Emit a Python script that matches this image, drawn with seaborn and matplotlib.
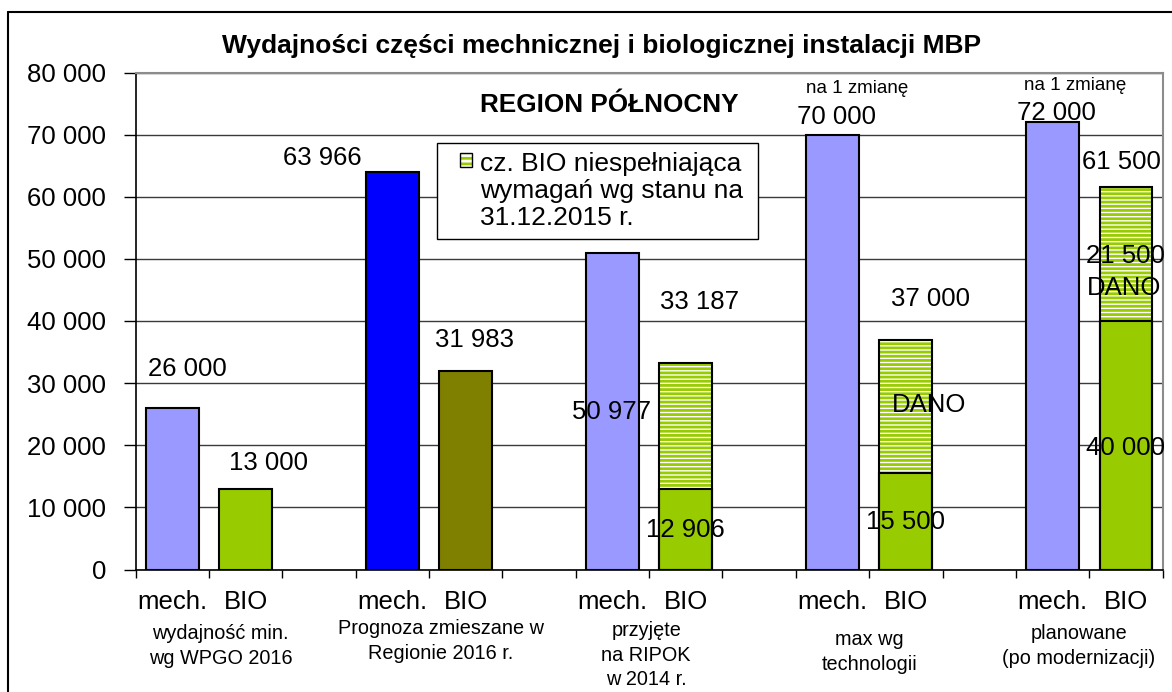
import numpy as np
import pandas as pd
import matplotlib
matplotlib.use("Agg")
import matplotlib.pyplot as plt
import matplotlib.transforms as mtransforms
from matplotlib.patches import Rectangle
import seaborn as sns

# ---- data -------------------------------------------------------------
groups = ["wydajność min.\nwg WPGO 2016",
          "Prognoza zmieszane w\nRegionie 2016 r.",
          "przyjęte\nna RIPOK\nw 2014 r.",
          "max wg\ntechnologii",
          "planowane\n(po modernizacji)"]
mech_values = [26000, 63966, 50977, 70000, 72000]
bio_total = [13000, 31983, 33187, 37000, 61500]
bio_compliant = [13000, 31983, 12906, 15500, 40000]
bio_hatched = [False, False, True, True, True]
mech_colors = ["#9999FF", "#0000FF", "#9999FF", "#9999FF", "#9999FF"]
bio_colors = ["#99CC00", "#808000", "#99CC00", "#99CC00", "#99CC00"]
legend_label = "cz. BIO niespełniająca\nwymagań wg stanu na\n31.12.2015 r."
title = "Wydajności części mechnicznej i biologicznej instalacji MBP"
region = "REGION PÓŁNOCNY"

# free-text value labels: (group, part, text, x offset in slots, y value)
annotations = [
    (0, "mech", "26 000", 0.21, 32300),
    (0, "bio", "13 000", 0.31, 17150),
    (1, "mech", "63 966", -0.95, 66300),
    (1, "bio", "31 983", 0.12, 36950),
    (2, "mech", "50 977", -0.01, 25400),
    (2, "bio", "33 187", 0.19, 43100),
    (2, "bio", "12 906", -0.01, 6400),
    (3, "mech", "70 000", 0.06, 72900),
    (3, "bio", "37 000", 0.34, 43600),
    (3, "bio", "DANO", 0.31, 26500),
    (3, "bio", "15 500", 0.00, 7650),
    (4, "mech", "72 000", 0.05, 73500),
    (4, "bio", "61 500", -0.06, 65600),
    (4, "bio", "21 500", -0.01, 50500),
    (4, "bio", "DANO", -0.03, 45300),
    (4, "bio", "40 000", -0.01, 19600),
]
shift_notes = [(3, "na 1 zmianę", 0.33, 77500), (4, "na 1 zmianę", 0.30, 77850)]

# placement of the group captions below the axis (x shift in slots, top in axes units)
caption_place = [(0.16, -0.110), (0.16, -0.100), (-0.04, -0.104),
                 (0.0, -0.122), (-0.14, -0.110)]

# ---- table of bar slots (mech, BIO, gap per group) -------------------
slots, totals, lowers, colors = [], [], [], {}
for g in range(len(groups)):
    m, b = f"mech{g}", f"bio{g}"
    slots += [m, b]
    colors[m] = mech_colors[g]
    colors[b] = bio_colors[g]
    totals += [(m, mech_values[g]), (b, bio_total[g])]
    if bio_hatched[g]:
        lowers.append((b, bio_compliant[g]))
    if g < len(groups) - 1:
        slots.append(f"gap{g}")
        colors[f"gap{g}"] = "white"
slot_pos = {s: i for i, s in enumerate(slots)}
hatched_slots = {f"bio{g}" for g in range(len(groups)) if bio_hatched[g]}

df_total = pd.DataFrame(totals, columns=["slot", "value"])
df_lower = pd.DataFrame(lowers, columns=["slot", "value"])

# ---- style --------------------------------------------------------------
sns.set_theme(style="white")
plt.rcParams["font.family"] = ["Liberation Sans", "DejaVu Sans"]
plt.rcParams["hatch.linewidth"] = 2.0
plt.rcParams["text.color"] = "black"
plt.rcParams["ytick.color"] = "black"
plt.rcParams["xtick.color"] = "black"

fig = plt.figure(figsize=(11.72, 6.92), dpi=100)
ax = fig.add_axes([135.5 / 1172, 1 - 569.5 / 692,
                   (1162.7 - 135.5) / 1172, (569.5 - 72.5) / 692])

BAR_W = 0.72

# full-height bars
sns.barplot(data=df_total, x="slot", y="value", hue="slot", order=slots,
            hue_order=slots, palette=colors, legend=False, width=BAR_W,
            dodge=False, edgecolor="black", linewidth=1.5, ax=ax,
            errorbar=None, saturation=1)
for p in ax.patches:
    idx = int(round(p.get_x() + p.get_width() / 2))
    if slots[idx] in hatched_slots:
        p.set_facecolor("white")
        p.set_edgecolor("#99CC00")
        p.set_linewidth(0)
        p.set_hatch("----")

# solid (compliant) lower part of the stacked BIO bars
sns.barplot(data=df_lower, x="slot", y="value", hue="slot", order=slots,
            hue_order=slots, palette=colors, legend=False, width=BAR_W,
            dodge=False, edgecolor="black", linewidth=1.5, ax=ax,
            errorbar=None, saturation=1)

# black outline around the hatched stacks
df_outline = df_total[df_total["slot"].isin(hatched_slots)]
n_before = len(ax.patches)
sns.barplot(data=df_outline, x="slot", y="value", order=slots,
            color="white", width=BAR_W, ax=ax, errorbar=None,
            edgecolor="black", linewidth=1.5)
for p in ax.patches[n_before:]:
    p.set_facecolor("none")
    p.set_edgecolor("black")

# ---- axes ------------------------------------------------------------------
ax.set_xlim(-0.5, len(slots) - 0.5)
ax.set_ylim(0, 80000)
ax.set_yticks(np.arange(0, 80001, 10000))
ax.set_yticklabels([f"{v:,}".replace(",", " ") for v in range(0, 80001, 10000)])
ax.set_xticks(np.arange(-0.5, len(slots), 1.0))
ax.set_xticklabels([])
ax.set_xlabel("")
ax.set_ylabel("")
ax.tick_params(axis="y", which="major", direction="out", length=9, width=1,
               color="black", pad=12, labelsize=18.5, labelcolor="black",
               left=True)
ax.tick_params(axis="x", which="major", direction="out", length=6, width=1,
               color="black", bottom=True)
ax.set_axisbelow(True)
ax.yaxis.grid(True, color="#3a3a3a", linewidth=1)
ax.xaxis.grid(False)
for side in ["left", "bottom"]:
    ax.spines[side].set_color("black")
    ax.spines[side].set_linewidth(1.2)
for side in ["top", "right"]:
    ax.spines[side].set_color("#8c8c8c")
    ax.spines[side].set_linewidth(1.5)

# category text under the axis
xdata_yaxes = mtransforms.blended_transform_factory(ax.transData, ax.transAxes)
for g, label in enumerate(groups):
    m = slot_pos[f"mech{g}"]
    b = slot_pos[f"bio{g}"]
    ax.text(m, -0.066, "mech.", transform=xdata_yaxes, ha="center",
            va="center", fontsize=18.5, color="black")
    ax.text(b, -0.066, "BIO", transform=xdata_yaxes, ha="center",
            va="center", fontsize=18.5, color="black")
    dx, ytop = caption_place[g]
    ax.text((m + b) / 2 + dx, ytop, label, transform=xdata_yaxes,
            ha="center", va="top", fontsize=14.3, linespacing=1.36,
            color="black")

# value labels
for g, part, text, dx, yv in annotations:
    base = slot_pos[f"{'mech' if part == 'mech' else 'bio'}{g}"]
    ax.text(base + dx, yv, text, ha="center", va="center", fontsize=18.5,
            clip_on=False, color="black")
for g, text, dx, yv in shift_notes:
    ax.text(slot_pos[f"mech{g}"] + dx, yv, text, ha="center", va="center",
            fontsize=13.5, clip_on=False, color="black")

# titles
fig.text(602 / 1172, 1 - 46 / 692, title, ha="center", va="center",
         fontsize=19, fontweight="bold", color="black")
fig.text(609 / 1172, 1 - 105 / 692, region, ha="center", va="center",
         fontsize=18.8, fontweight="bold", color="black")

# legend box
fig.patches.append(Rectangle((437 / 1172, 1 - 239 / 692), 321 / 1172,
                             96 / 692, transform=fig.transFigure,
                             facecolor="white", edgecolor="black",
                             linewidth=1.0, zorder=5))
fig.patches.append(Rectangle((460 / 1172, 1 - 167 / 692), 12 / 1172,
                             14 / 692, transform=fig.transFigure,
                             facecolor="white", edgecolor="#99CC00",
                             hatch="---", linewidth=0, zorder=6))
fig.patches.append(Rectangle((460 / 1172, 1 - 167 / 692), 12 / 1172,
                             14 / 692, transform=fig.transFigure,
                             facecolor="none", edgecolor="black",
                             linewidth=1.0, zorder=7))
fig.text(480 / 1172, 1 - 191 / 692, legend_label, ha="left", va="center",
         fontsize=19, linespacing=1.14, zorder=8, color="black")

# outer chart frame (top and left edges)
fig.add_artist(plt.Line2D([8 / 1172, 8 / 1172], [0, 1 - 12 / 692],
                          transform=fig.transFigure, color="black", lw=1.5))
fig.add_artist(plt.Line2D([8 / 1172, 1], [1 - 12 / 692, 1 - 12 / 692],
                          transform=fig.transFigure, color="black", lw=1.5))

fig.savefig("out.png", dpi=100)
